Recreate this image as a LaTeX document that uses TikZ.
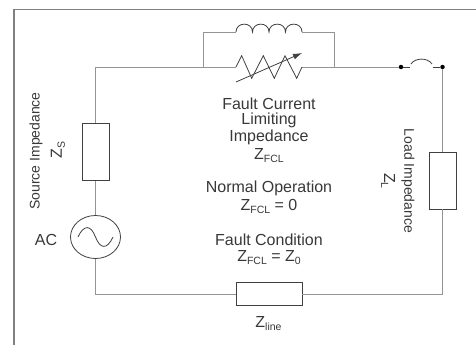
\documentclass[tikz,border=0pt]{standalone}
\usepackage{fontspec}
\setmainfont{Liberation Sans}
\usetikzlibrary{shapes,positioning,arrows,arrows.meta,fit,calc}
\definecolor{wirecol}{gray}{0.58}
\definecolor{partcol}{gray}{0.25}
\definecolor{textcol}{gray}{0.22}
\tikzset{
    wire/.style={draw=wirecol,line width=0.9pt},
    part/.style={draw=partcol,line width=0.8pt},
    impbox/.style={rectangle,draw=partcol,line width=0.9pt,fill=white,inner sep=0pt},
    lbl/.style={text=textcol,inner sep=0pt,align=center,font=\fontsize{16}{18}\selectfont},
    sidelbl/.style={lbl,font=\fontsize{14}{16}\selectfont},
    dotnode/.style={circle,fill=black,inner sep=0pt,minimum size=4.5pt},
}
\newcommand{\zsub}[2]{Z\raisebox{-3pt}{\fontsize{10.5}{12}\selectfont #2}#1}
\begin{document}
\begin{tikzpicture}[x=1pt,y=-1pt]
    \useasboundingbox (0,0) rectangle (476,345);
    % frame
    \coordinate (ftl) at (14,9.5);
    \coordinate (fbl) at (14,345);
    \coordinate (ftr) at (476,9.5);
    \draw[draw=gray,line width=1.2pt] (fbl) -- (ftl) -- (ftr);
    % parts
    \node[impbox,minimum width=27pt,minimum height=57pt] (zs) at (95.5,152) {};
    \node[impbox,minimum width=27pt,minimum height=57pt] (zl) at (442.5,180.5) {};
    \node[impbox,minimum width=66pt,minimum height=23pt] (zline) at (269,294) {};
    \node[ellipse,draw=partcol,line width=0.8pt,minimum width=50pt,minimum height=43pt,inner sep=0pt] (ac) at (95.5,237) {};
    \node[dotnode] (d1) at (401,67) {};
    \node[dotnode] (d2) at (442.5,67) {};
    \coordinate (tl) at (95.5,67);
    \coordinate (bl) at (95.5,294);
    \coordinate (br) at (442.5,294);
    \coordinate (pl) at (203,67);
    \coordinate (pr) at (334.5,67);
    \coordinate (pul) at (203,32);
    \coordinate (pur) at (334.5,32);
    \coordinate (il) at (236,32);
    \coordinate (ir) at (302,32);
    \coordinate (rl) at (236,67);
    \coordinate (rr) at (302,67);
    \coordinate (sl) at (411,64);
    \coordinate (sr) at (432,64);
    \coordinate (sla) at (410,67);
    \coordinate (sra) at (433,67);
    \coordinate (al) at (236,82);
    \coordinate (ar) at (302,53);
    % wires
    \draw[wire] (ac.north) -- (zs.south);
    \draw[wire] (zs.north) -- (tl) -- (rl);
    \draw[wire] (rr) -- (d1);
    \draw[wire] (ac.south) -- (bl) -- (zline.west);
    \draw[wire] (zline.east) -- (br) -- (zl.south);
    \draw[wire] (zl.north) -- (d2);
    \draw[wire] (pl) -- (pul) -- (il);
    \draw[wire] (ir) -- (pur) -- (pr);
    % inductor
    \draw[part] (il) .. controls +(0,-10.5) and +(0,-10.5) .. ++(16.5,0)
        .. controls +(0,-10.5) and +(0,-10.5) .. ++(16.5,0)
        .. controls +(0,-10.5) and +(0,-10.5) .. ++(16.5,0)
        .. controls +(0,-10.5) and +(0,-10.5) .. (ir);
    % variable resistor
    \draw[part] (rl) -- (241.7,55.7) -- (251.7,78.3) -- (263.3,55.7) -- (274.3,78.3) -- (285,55.7) -- (296.7,78.3) -- (rr);
    \draw[part,-{Latex[length=9pt,width=6pt]}] (al) -- (ar);
    % switch
    \draw[part] (d1) -- (sla);
    \draw[part] (sra) -- (d2);
    \draw[part] (sl) .. controls +(4,-6.5) and +(-4,-6.5) .. (sr);
    % sine in the source
    \draw[part] (78,237) .. controls (84,224) and (91,225) .. (ac.center) .. controls (100,249) and (107,250) .. (113,237);
    % labels
    \node[lbl] (fcl1) at (269,103.5) {Fault Current};
    \node[lbl] (fcl2) at (269,120.5) {Limiting};
    \node[lbl] (fcl3) at (269,137.5) {Impedance};
    \node[lbl] (fcl4) at (269,156) {\zsub{}{FCL}};
    \node[lbl] (norm1) at (269,188.5) {Normal Operation};
    \node[lbl] (norm2) at (269,206.5) {\zsub{ = 0}{FCL}};
    \node[lbl] (cond1) at (269,239.5) {Fault Condition};
    \node[lbl] (cond2) at (269,258) {\zsub{ = Z\raisebox{-3pt}{\fontsize{10.5}{12}\selectfont 0}}{FCL}};
    \node[lbl] (lline) at (268.5,323.5) {\zsub{}{line}};
    \node[lbl] (ldac) at (46,240) {AC};
    \node[sidelbl,rotate=90] (lsrc) at (36,151) {Source Impedance};
    \node[lbl,rotate=90] (lzs) at (58,150) {\zsub{}{S}};
    \node[sidelbl,rotate=-90] (lload) at (408,181) {Load Impedance};
    \node[lbl,rotate=-90] (lzl) at (388,181) {\zsub{}{L}};
\end{tikzpicture}
\end{document}
